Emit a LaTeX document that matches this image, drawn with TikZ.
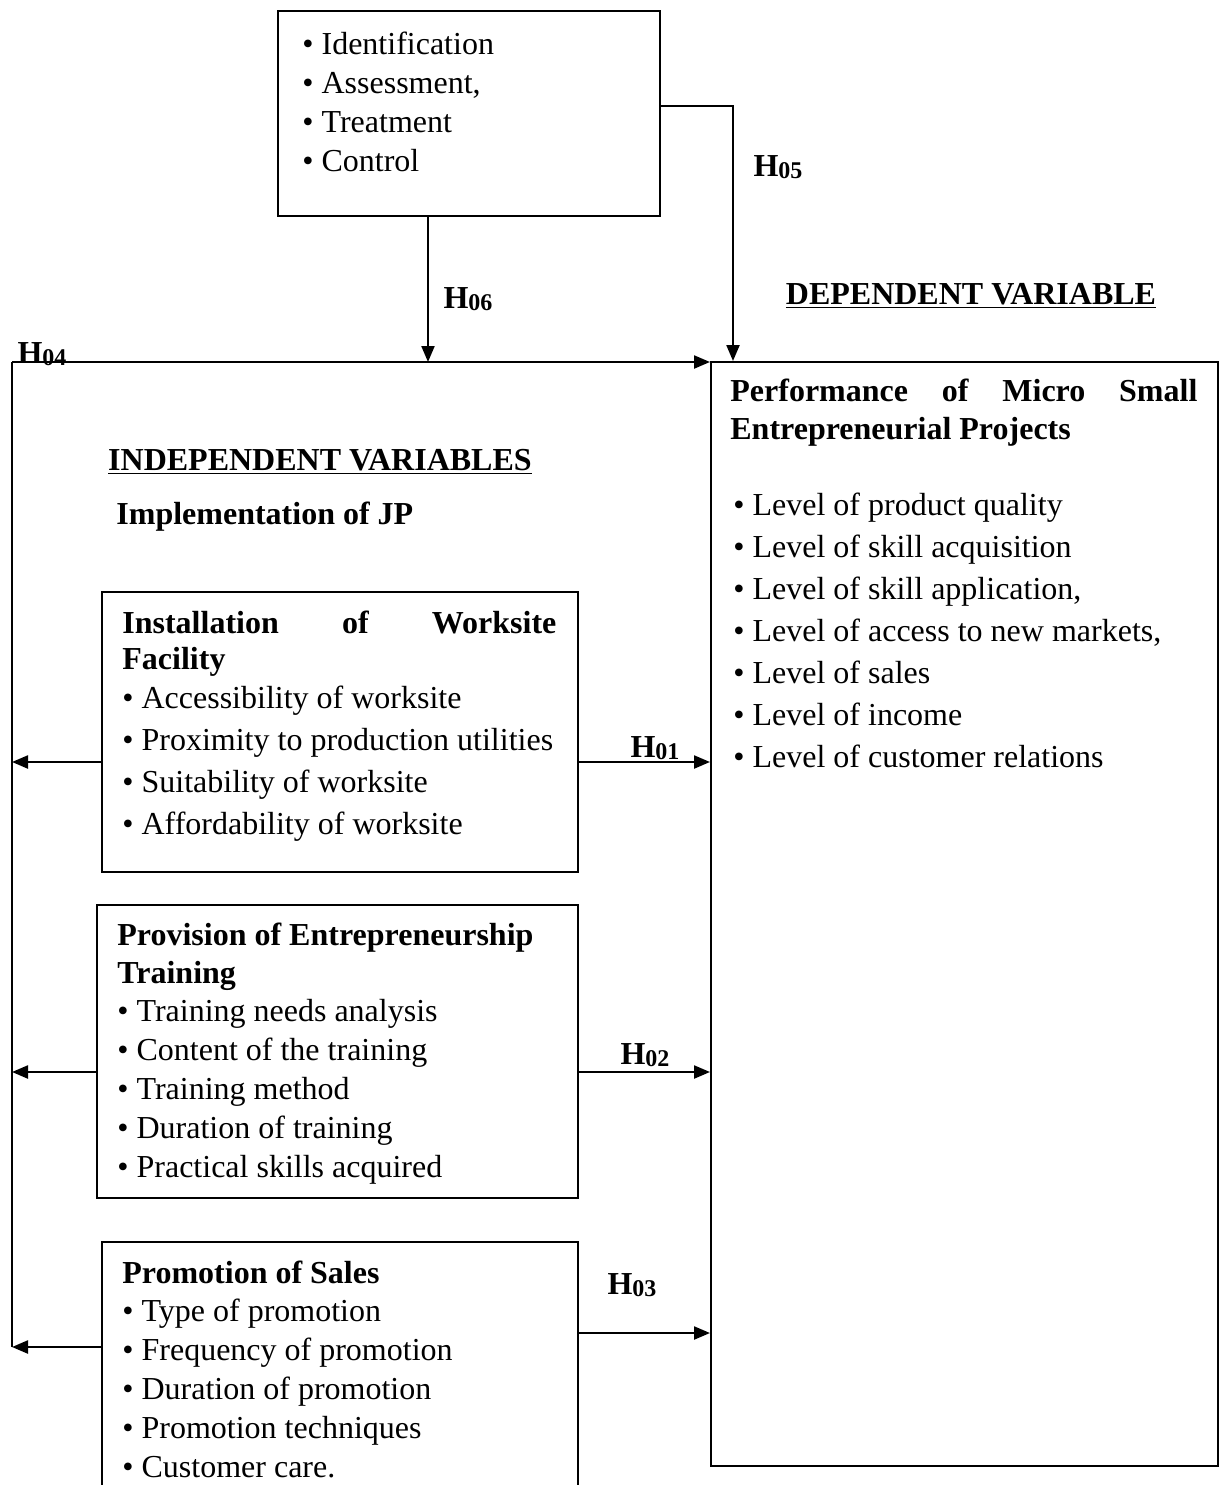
\documentclass[tikz,border=0pt]{standalone}
\usepackage{fontspec}
\setmainfont{Liberation Serif}
\usetikzlibrary{arrows.meta,positioning,calc}
\newcommand{\hsub}[1]{H\raisebox{-1pt}{\fontsize{12}{12}\selectfont #1}}

\begin{document}
\begin{tikzpicture}[
    x=0.5pt, y=-0.5pt,
    box/.style={rectangle, draw, line width=1pt, inner sep=0pt, anchor=north west},
    items/.style={anchor=north west, inner sep=0pt, align=left, font=\fontsize{16}{19.5}\selectfont},
    title/.style={anchor=north west, inner sep=0pt, align=justify, font=\fontsize{16}{19}\selectfont\bfseries},
    head/.style={inner sep=0pt, font=\fontsize{16}{19}\selectfont\bfseries},
    hyp/.style={inner sep=0pt, font=\fontsize{16}{19}\selectfont\bfseries},
    arrow/.style={-{Triangle[length=8pt,width=6.5pt]}, line width=1.1pt},
    link/.style={line width=1.1pt}
]
    \useasboundingbox (0,0) rectangle (1219,1485);
    \clip (0,0) rectangle (1219,1485);

    % boxes
    \node[box, minimum width=191pt, minimum height=102.5pt] (risk) at (277,10) {};
    \node[box, minimum width=253.5pt, minimum height=552pt] (perf) at (710,361) {};
    \node[box, minimum width=238pt, minimum height=140pt] (site) at (101,591) {};
    \node[box, minimum width=240.5pt, minimum height=146.5pt] (train) at (96,904) {};
    \node[box, minimum width=238pt, minimum height=140pt] (sales) at (101,1241) {};

    % box texts
    \node[items] (risklist) at (302,32) {\textbullet\ Identification\\ \textbullet\ Assessment,\\ \textbullet\ Treatment\\ \textbullet\ Control};

    \node[title, text width=233.5pt] (perftitle) at (730,379) {Performance of Micro Small\linebreak Entrepreneurial Projects};
    \node[items, font=\fontsize{16}{21}\selectfont] (perflist) at (733,493) {\textbullet\ Level of product quality\\ \textbullet\ Level of skill acquisition\\ \textbullet\ Level of skill application,\\ \textbullet\ Level of access to new markets,\\ \textbullet\ Level of sales\\ \textbullet\ Level of income\\ \textbullet\ Level of customer relations};

    \node[title, text width=217pt, font=\fontsize{16}{18}\selectfont\bfseries] (sitetitle) at (122,611) {Installation of Worksite\linebreak Facility};
    \node[items, font=\fontsize{16}{21}\selectfont] (sitelist) at (122,686) {\textbullet\ Accessibility of worksite\\ \textbullet\ Proximity to production utilities\\ \textbullet\ Suitability of worksite\\ \textbullet\ Affordability of worksite};

    \node[title, align=left] (traintitle) at (117,923) {Provision of Entrepreneurship\\ Training};
    \node[items] (trainlist) at (117,999) {\textbullet\ Training needs analysis\\ \textbullet\ Content of the training\\ \textbullet\ Training method\\ \textbullet\ Duration of training\\ \textbullet\ Practical skills acquired};

    \node[title, align=left] (salestitle) at (122,1261) {Promotion of Sales};
    \node[items] (saleslist) at (122,1299) {\textbullet\ Type of promotion\\ \textbullet\ Frequency of promotion\\ \textbullet\ Duration of promotion\\ \textbullet\ Promotion techniques\\ \textbullet\ Customer care.};

    % headings
    \node[head] (dephead) at (971,296) {\underline{DEPENDENT VARIABLE}};
    \node[head] (indhead) at (320,462) {\underline{INDEPENDENT VARIABLES}};
    \node[head, anchor=west] (jphead) at (116,517) {Implementation of JP};

    % hypothesis labels
    \node[hyp] (h01) at (655,748) {\hsub{01}};
    \node[hyp] (h02) at (645,1055) {\hsub{02}};
    \node[hyp] (h03) at (632,1285) {\hsub{03}};
    \node[hyp] (h04) at (42,354) {\hsub{04}};
    \node[hyp] (h05) at (778,167) {\hsub{05}};
    \node[hyp] (h06) at (468,299) {\hsub{06}};

    % connectors
    \coordinate (corner) at (12,362);
    \coordinate (meet) at (428,362);
    \coordinate (foot) at (12,1347);

    \draw[link] (foot) -- (corner);
    \draw[arrow] (corner) -- (perf.west |- corner);
    \draw[arrow] (risk.south -| meet) -- (meet);
    \draw[arrow] (risk.east |- 0,106) -| (perf.north -| 733,0);

    \draw[arrow] (site.east |- 0,762) -- (perf.west |- 0,762);
    \draw[arrow] (train.east |- 0,1072) -- (perf.west |- 0,1072);
    \draw[arrow] (sales.east |- 0,1333) -- (perf.west |- 0,1333);

    \draw[arrow] (site.west |- 0,762) -- (corner |- 0,762);
    \draw[arrow] (train.west |- 0,1072) -- (corner |- 0,1072);
    \draw[arrow] (sales.west |- 0,1347) -- (foot);
\end{tikzpicture}
\end{document}
